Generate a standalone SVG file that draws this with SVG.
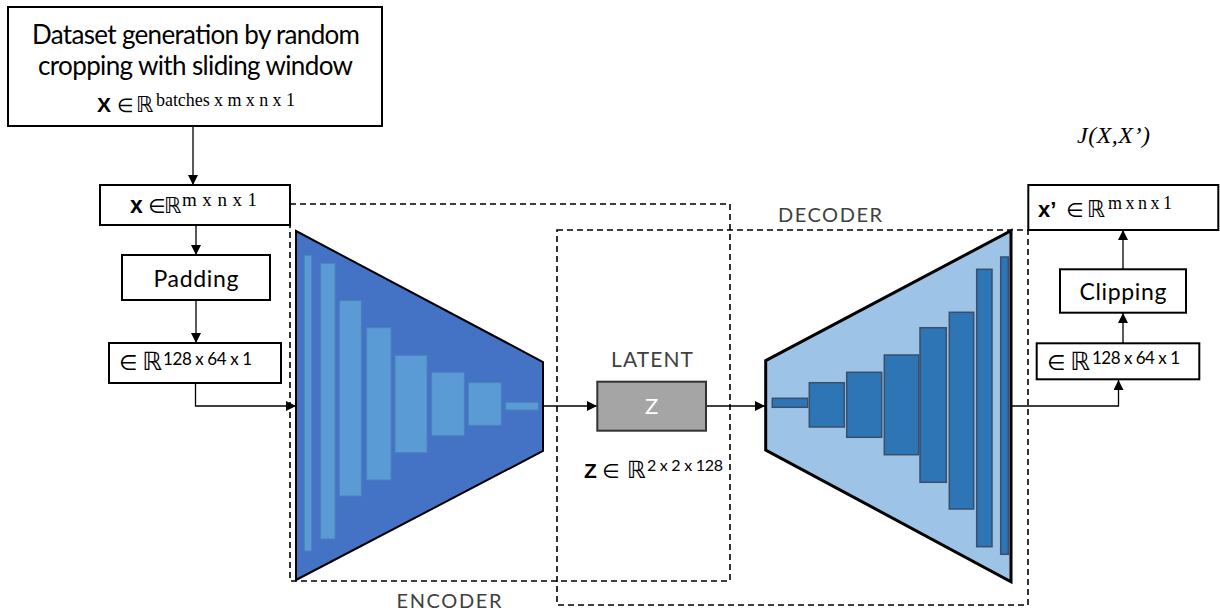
<svg xmlns="http://www.w3.org/2000/svg" width="1220" height="614" viewBox="0 0 1220 614">
<style>
.box{fill:#fff;stroke:#000;stroke-width:2}
.dash{fill:none;stroke:#000;stroke-width:1.6;stroke-dasharray:6 4}
.line{fill:none;stroke:#000;stroke-width:1.3}
.t{font-family:Lato,"Liberation Sans",Arial,sans-serif;fill:#000}
.g{font-family:Lato,"Liberation Sans",Arial,sans-serif;fill:#404040}
.sym{font-family:"DejaVu Sans",sans-serif;fill:#000}
.ser{font-family:"Liberation Serif","DejaVu Serif",serif;fill:#000}
.b{font-family:"Liberation Sans",Arial,sans-serif;font-weight:bold;fill:#000}
.enc{fill:#5B9BD5;stroke:#4A82BA;stroke-width:1}
.dec{fill:#2E75B6;stroke:#3A4F6A;stroke-width:1.5}
</style>
<defs>
<marker id="arr" viewBox="0 0 10 10" refX="10" refY="5" markerWidth="10" markerHeight="10" markerUnits="userSpaceOnUse" orient="auto">
<path d="M0,0 L10,5 L0,10 z" fill="#000"/>
</marker>
</defs>
<rect width="1220" height="614" fill="#fff"/>

<g id="regions">
<rect class="dash" x="290" y="204" width="440" height="377"/>
<rect class="dash" x="557" y="230" width="471" height="375"/>
<text class="g" x="830" y="222" font-size="20" text-anchor="middle" textLength="104">DECODER</text>
<text class="g" x="449" y="608" font-size="20" text-anchor="middle" textLength="105">ENCODER</text>
</g>

<g id="connectors">
<line class="line" x1="193" y1="126" x2="193" y2="185" marker-end="url(#arr)"/>
<line class="line" x1="196" y1="225" x2="196" y2="255" marker-end="url(#arr)"/>
<line class="line" x1="196" y1="300" x2="196" y2="343" marker-end="url(#arr)"/>
<polyline class="line" points="195.5,383 195.5,406 296,406" marker-end="url(#arr)"/>
<line class="line" x1="543" y1="406" x2="597" y2="406" marker-end="url(#arr)"/>
<line class="line" x1="706" y1="406" x2="765" y2="406" marker-end="url(#arr)"/>
<polyline class="line" points="1011,406 1118.5,406 1118.5,380" marker-end="url(#arr)"/>
<line class="line" x1="1123" y1="343" x2="1123" y2="313" marker-end="url(#arr)"/>
<line class="line" x1="1123" y1="269" x2="1123" y2="230" marker-end="url(#arr)"/>
</g>

<g id="dataset">
<rect class="box" x="8" y="7" width="374" height="119"/>
<text class="t" x="196" y="44" font-size="26" text-anchor="middle" textLength="328">Dataset generation by random</text>
<text class="t" x="195.5" y="75" font-size="26" text-anchor="middle" textLength="315">cropping with sliding window</text>
<text class="b" x="97" y="112" font-size="21">X</text>
<text class="sym" x="117" y="112" font-size="19">∈</text>
<text class="sym" x="136" y="112" font-size="22">ℝ</text>
<text class="ser" x="156" y="106" font-size="18" textLength="139">batches x m x n x 1</text>
</g>

<g id="input">
<rect class="box" x="100" y="185" width="190" height="40"/>
<text class="b" x="130" y="213" font-size="23">x</text>
<text class="sym" x="148" y="213" font-size="20">∈</text>
<text class="sym" x="164" y="213" font-size="22">ℝ</text>
<text class="ser" x="182" y="206" font-size="19" textLength="75">m x n x 1</text>
</g>

<g id="padding">
<rect class="box" x="122" y="255" width="148" height="45"/>
<text class="t" x="196" y="287" font-size="23" text-anchor="middle" textLength="85">Padding</text>
</g>

<g id="padded">
<rect class="box" x="109" y="343" width="172" height="40"/>
<text class="sym" x="119" y="370" font-size="21">∈</text>
<text class="sym" x="142" y="370" font-size="25">ℝ</text>
<text class="t" x="163" y="365" font-size="17" textLength="89">128 x 64 x 1</text>
</g>

<g id="encoder">
<polygon points="296,231 543,362 543,451 296,580" fill="#4472C4" stroke="#000" stroke-width="2"/>
<rect class="enc" x="304.3" y="255.3" width="7.4" height="295.7"/>
<rect class="enc" x="320.7" y="263.3" width="14.3" height="275.7"/>
<rect class="enc" x="339.3" y="300.7" width="22" height="195.3"/>
<rect class="enc" x="366.7" y="327.7" width="24.3" height="152.3"/>
<rect class="enc" x="395" y="355.3" width="32" height="97.4"/>
<rect class="enc" x="431.7" y="372.3" width="32.6" height="63.4"/>
<rect class="enc" x="468.3" y="382.7" width="33" height="42.6"/>
<rect class="enc" x="505.7" y="402.3" width="32.6" height="7.7"/>
</g>

<g id="latent">
<text class="g" x="652" y="367" font-size="21" text-anchor="middle" textLength="82">LATENT</text>
<rect x="597.3" y="381.7" width="108.7" height="49" fill="#A5A5A5" stroke="#333" stroke-width="2"/>
<text x="651.5" y="414" font-size="22" text-anchor="middle" fill="#fff" font-family="Lato,'Liberation Sans',Arial,sans-serif">Z</text>
<text class="b" x="584" y="478" font-size="21">Z</text>
<text class="sym" x="602" y="478" font-size="20">∈</text>
<text class="sym" x="627" y="478" font-size="24">ℝ</text>
<text class="t" x="647" y="471" font-size="16" textLength="76">2 x 2 x 128</text>
</g>

<g id="decoder">
<polygon points="765.7,360.7 1011,230.7 1011,581.7 765.7,450" fill="#9DC3E6" stroke="#000" stroke-width="3"/>
<rect class="dec" x="772.3" y="398.3" width="35.4" height="9"/>
<rect class="dec" x="809.3" y="382.7" width="35" height="44.3"/>
<rect class="dec" x="846.7" y="372.3" width="35" height="65"/>
<rect class="dec" x="884.3" y="355" width="34.4" height="99.7"/>
<rect class="dec" x="920" y="327.7" width="26.3" height="154.6"/>
<rect class="dec" x="949.3" y="312.3" width="24.4" height="196.7"/>
<rect class="dec" x="976.7" y="269.3" width="15.3" height="277.4"/>
<rect class="dec" x="1000.7" y="257" width="7.6" height="297.3"/>
</g>

<g id="loss">
<text x="1077" y="143" font-size="24" font-style="italic" font-family="'Liberation Serif','Times New Roman',serif" fill="#000" textLength="73">J(X,X’)</text>
</g>

<g id="output">
<rect class="box" x="1028.3" y="185" width="190" height="45"/>
<text class="b" x="1038" y="217" font-size="22">x’</text>
<text class="sym" x="1066" y="217" font-size="20">∈</text>
<text class="sym" x="1087" y="217" font-size="23">ℝ</text>
<text class="ser" x="1108" y="209" font-size="18" textLength="64">m x n x 1</text>
</g>

<g id="clipping">
<rect class="box" x="1060" y="269.3" width="126" height="43.4"/>
<text class="t" x="1123" y="300" font-size="23" text-anchor="middle" textLength="87">Clipping</text>
</g>

<g id="decoded">
<rect class="box" x="1036.7" y="343.3" width="162.6" height="36"/>
<text class="sym" x="1047" y="370" font-size="21">∈</text>
<text class="sym" x="1070" y="370" font-size="25">ℝ</text>
<text class="t" x="1092" y="364" font-size="17" textLength="88">128 x 64 x 1</text>
</g>
</svg>
